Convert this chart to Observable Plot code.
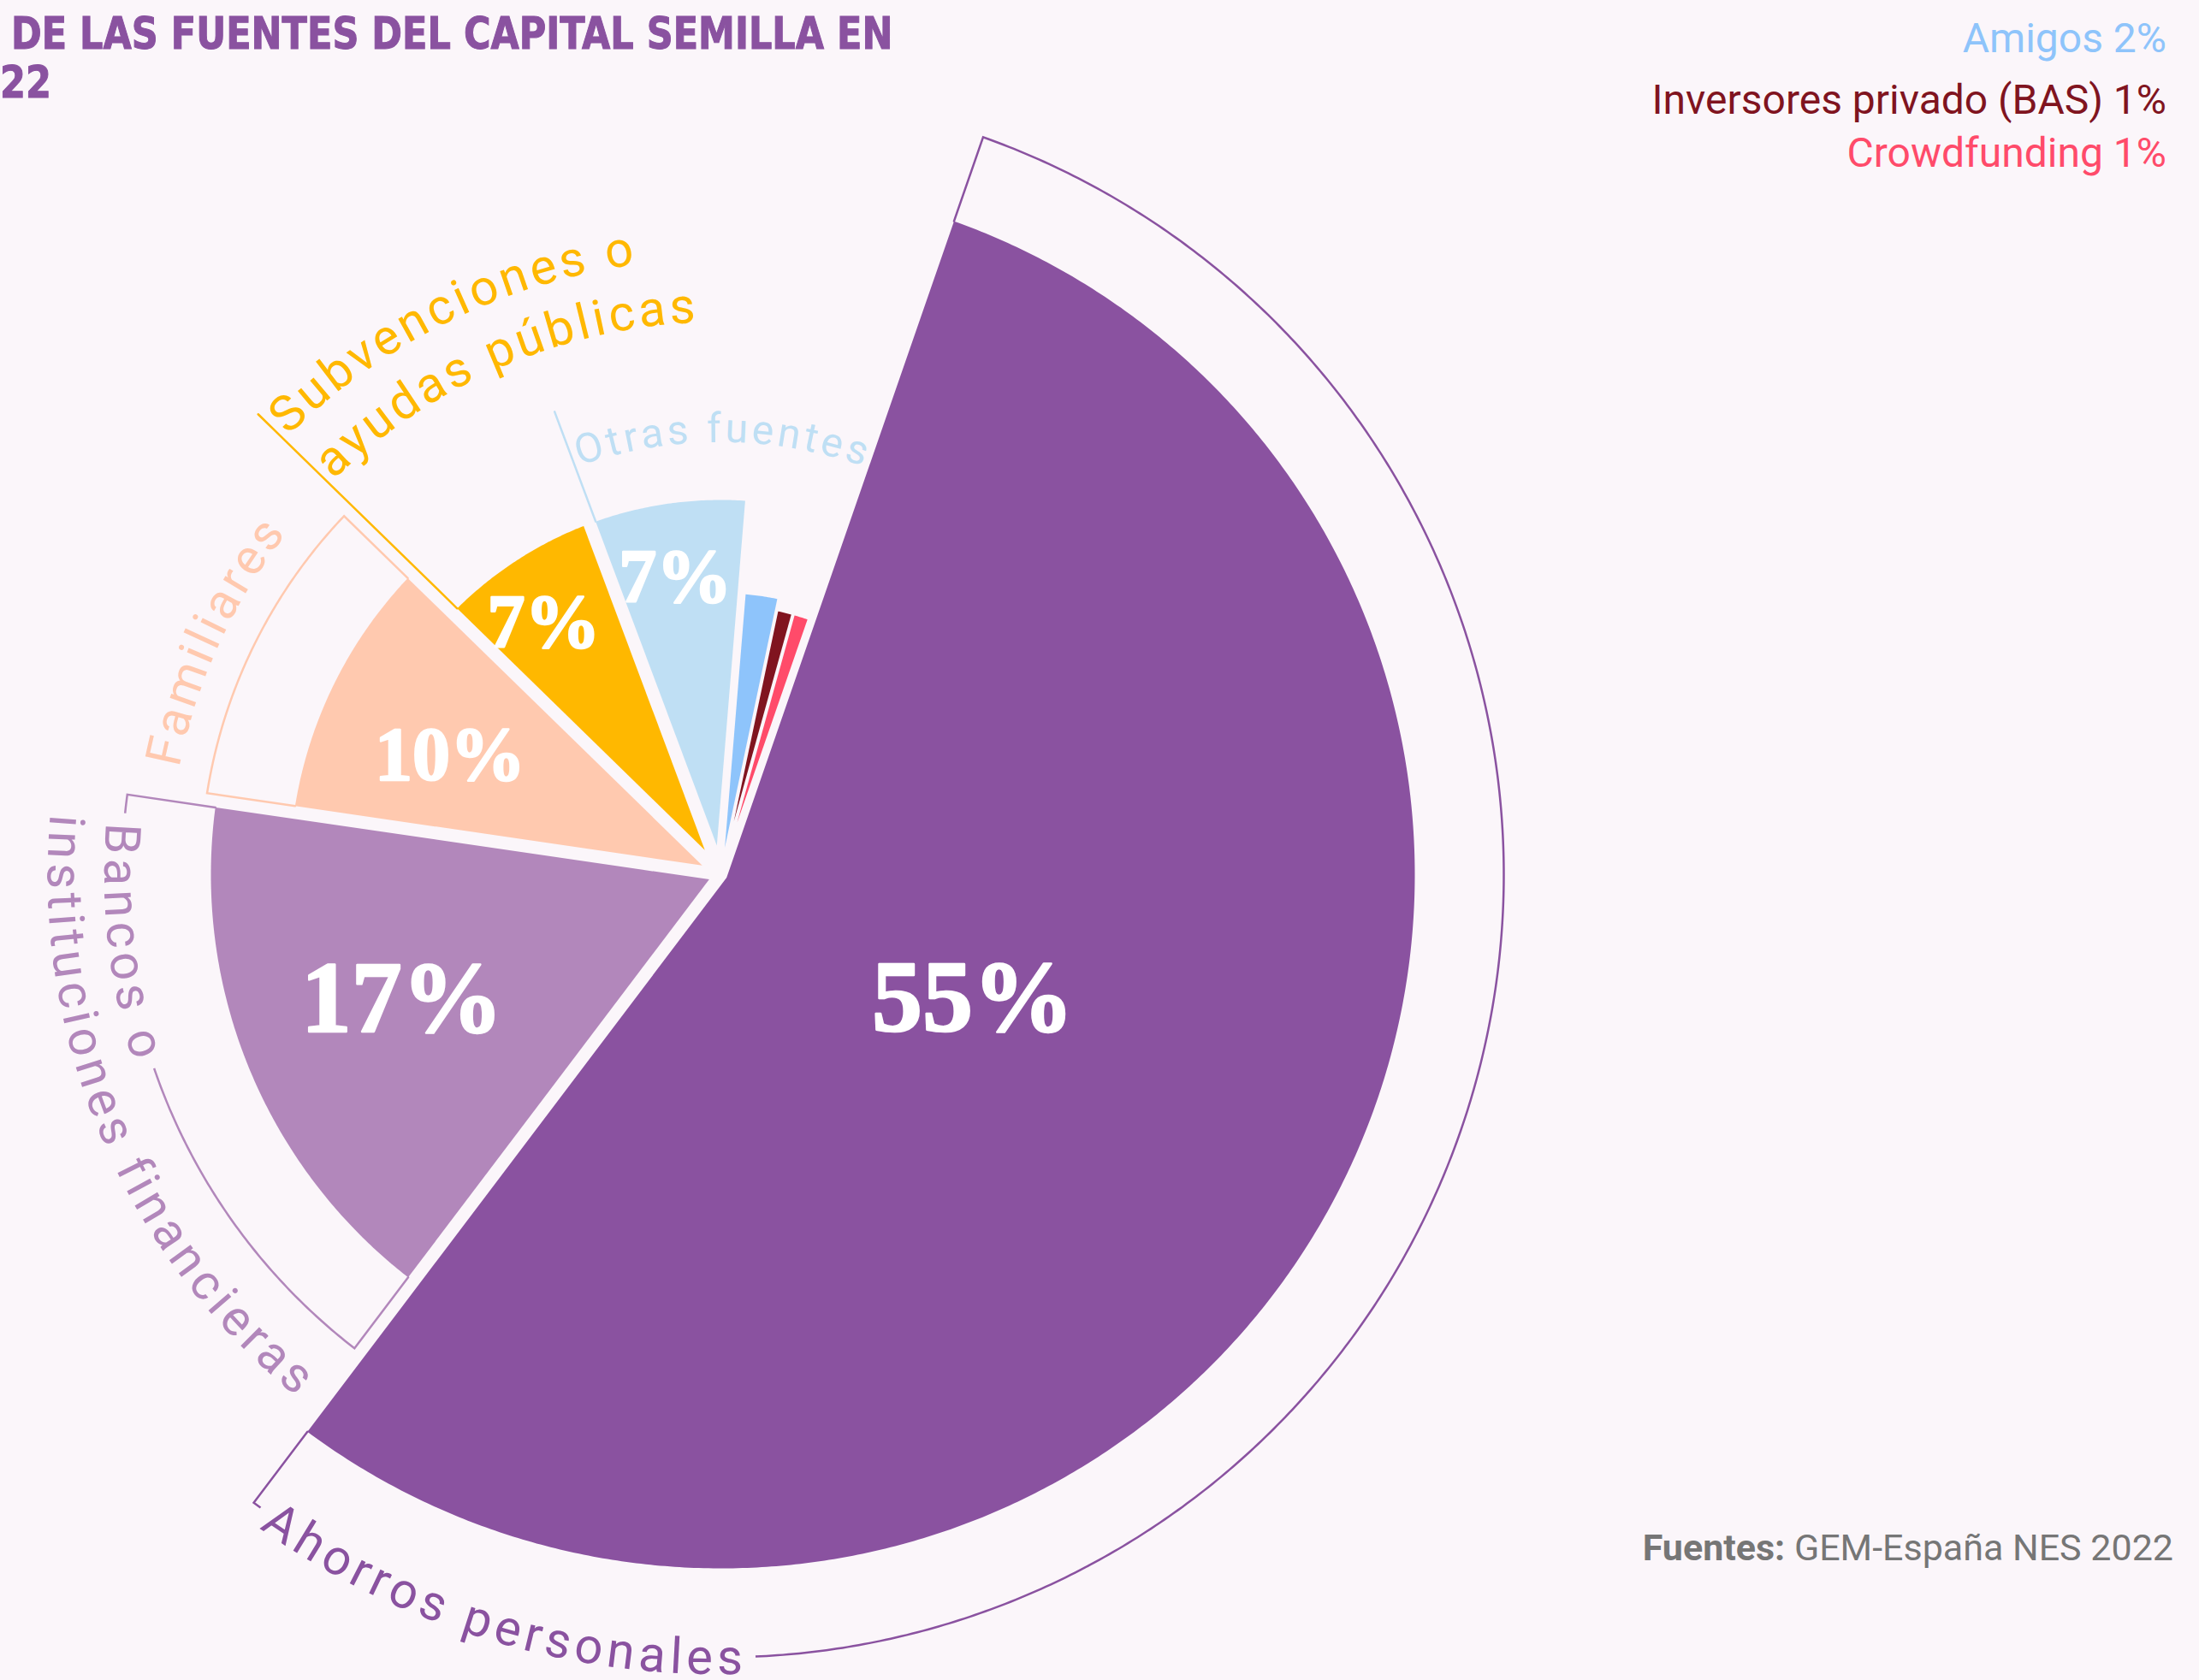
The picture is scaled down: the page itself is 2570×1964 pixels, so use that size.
<!DOCTYPE html>
<html>
<head>
<meta charset="utf-8">
<script src="https://cdn.jsdelivr.net/npm/d3@7"></script>
<script src="https://cdn.jsdelivr.net/npm/@observablehq/plot@0.6"></script>
<style>
  html, body { margin: 0; padding: 0; background: #FBF6FA; }
  #wrap { position: relative; width: 2570px; height: 1964px; overflow: hidden; background: #FBF6FA; }
  #wrap svg { position: absolute; left: 0; top: 0; }
  .title { position: absolute; font-family: "Liberation Sans Narrow", "DejaVu Sans Condensed", "Roboto", sans-serif; font-weight: 700; font-size: 52px; line-height: 1; color: #8A52A0; white-space: nowrap; transform: scaleX(0.92); transform-origin: 0 0; -webkit-text-stroke: 1px #8A52A0; }
  .legend { position: absolute; right: 38px; font-family: "Roboto", sans-serif; font-weight: 400; font-size: 48px; line-height: 1; white-space: nowrap; text-align: right; }
  .source { position: absolute; right: 30px; top: 1788px; font-family: "Roboto", sans-serif; font-size: 43px; line-height: 1; color: #767676; white-space: nowrap; }
  .source b { font-weight: 700; }
</style>
</head>
<body>
<div id="wrap"></div>
<script>
// ---------- DATA ----------
const categories = [
  "Ahorros personales",
  "Bancos o instituciones financieras",
  "Familiares",
  "Subvenciones o ayudas públicas",
  "Otras fuentes",
  "Amigos",
  "Inversores privado (BAS)",
  "Crowdfunding"
];
const values = [55, 17, 10, 7, 7, 2, 1, 1];
const labelLines = [
  ["Ahorros personales"],
  ["Bancos o", "instituciones financieras"],
  ["Familiares"],
  ["Subvenciones o", "ayudas públicas"],
  ["Otras fuentes"],
  [], [], []
];
const legendCategories = ["Amigos", "Inversores privado (BAS)", "Crowdfunding"];
const titleLines = ["DE LAS FUENTES DEL CAPITAL SEMILLA EN", "22"];
const sourceLabel = "Fuentes:";
const sourceText = "GEM-España NES 2022";

// ---------- STYLE / LAYOUT ----------
const palette = ["#8A52A0", "#B287BB", "#FFC9AF", "#FFB800", "#BFDFF4", "#8EC4FB", "#80141F", "#FF4B6A"];
const BG = "#FBF6FA";
const W = 2570, H = 1964, CX = 842, CY = 1022;
const START_DEG = 19.1;
const radius = d3.scaleLinear().domain([1, 2, 7, 10, 17, 55]).range([315, 329, 438, 504, 596, 811]);
const RING_GAP = 104;
const edgeOffset = v => v < 5 ? 2 : 7.5;
const pctSize = v => v >= 15 ? 118 : 88;
// per-category label layout (text radii relative to ring radius or slice radius)
const labelLayout = {
  "Ahorros personales": {ring: true, dir: "ccw", offset: 30, radii: [0], mask: [true], font: 58, pct: 328, pctTurn: -2},
  "Bancos o instituciones financieras": {ring: true, dir: "ccw", offset: 42, radii: [0, 66], mask: [true, false], font: 58, pct: 400, pctTurn: 1},
  "Familiares": {ring: true, dir: "center", radii: [57], mask: [false], font: 58, turn: -1.5, pct: 346, pctTurn: -2.5},
  "Subvenciones o ayudas públicas": {leader: 325, dir: "cw", offset: 15, radii: [302, 228], mask: [false, false], font: 58, pct: 360, pctTurn: -2},
  "Otras fuentes": {leader: 137, dir: "cw", offset: 14, radii: [84], mask: [false], font: 48, pct: 352, pctTurn: -0.8}
};

// ---------- GEOMETRY ----------
const rad = d => d * Math.PI / 180;
const pt = (r, a) => ({x: r * Math.sin(a), y: -r * Math.cos(a)});
const total = d3.sum(values);
let acc = 0;
const slices = categories.map((category, i) => {
  const v = values[i];
  const a0 = rad(START_DEG + 360 * acc / total); acc += v;
  const a1 = rad(START_DEG + 360 * acc / total);
  return {category, v, i, a0, a1, mid: (a0 + a1) / 2, half: (a1 - a0) / 2, R: radius(v), o: edgeOffset(v)};
});
const arcPts = (r, s) => {
  const b0 = s.a0 + Math.asin(s.o / r), b1 = s.a1 - Math.asin(s.o / r);
  const n = Math.max(2, Math.ceil(Math.abs(b1 - b0) / rad(0.4)));
  return d3.range(n + 1).map(k => pt(r, b0 + (b1 - b0) * k / n));
};
const edge0 = (s, r) => pt(r, s.a0 + Math.asin(s.o / r));
const edge1 = (s, r) => pt(r, s.a1 - Math.asin(s.o / r));

const slicePoints = slices.flatMap(s => {
  const apex = pt(s.o / Math.sin(s.half), s.mid);
  return [apex, ...arcPts(s.R, s)].map(p => ({...p, category: s.category}));
});
const ringPoints = slices.filter(s => labelLayout[s.category] && labelLayout[s.category].ring).flatMap(s => {
  const Rr = s.R + RING_GAP;
  return [edge0(s, s.R), ...arcPts(Rr, s), edge1(s, s.R)].map(p => ({...p, category: s.category}));
});
const leaderPoints = slices.filter(s => labelLayout[s.category] && labelLayout[s.category].leader).flatMap(s => {
  const L = labelLayout[s.category].leader;
  return [edge0(s, s.R), edge0(s, s.R + L)].map(p => ({...p, category: s.category}));
});
const pctData = slices.filter(s => s.v >= 5).map(s => {
  const L = labelLayout[s.category];
  return {...pt(L.pct, s.mid + rad(L.pctTurn)), text: s.v + "%", fs: pctSize(s.v)};
});

// ---------- PLOT ----------
const plot = Plot.plot({
  width: W, height: H,
  margin: 0,
  style: {background: BG},
  x: {domain: [-CX, W - CX], range: [0, W], axis: null},
  y: {domain: [-CY, H - CY], range: [0, H], axis: null},
  color: {type: "ordinal", domain: categories, range: palette},
  marks: [
    Plot.line(slicePoints, {x: "x", y: "y", z: "category", fill: "category", stroke: "none"}),
    Plot.line(ringPoints, {x: "x", y: "y", z: "category", stroke: "category", fill: "none", strokeWidth: 2.5, strokeLinejoin: "miter", strokeMiterlimit: 10}),
    Plot.line(leaderPoints, {x: "x", y: "y", z: "category", stroke: "category", strokeWidth: 2.5}),
    Plot.text(pctData, {x: "x", y: "y", text: "text", fontSize: "fs", fill: "white", stroke: "white", strokeWidth: 2.5, fontFamily: "Liberation Serif, DejaVu Serif, serif", fontWeight: 900, letterSpacing: -9})
  ]
});

const wrap = document.getElementById("wrap");
wrap.appendChild(plot);

// ---------- CURVED LABELS (text on paths, positions from Plot scales) ----------
const X = plot.scale("x"), Y = plot.scale("y"), C = plot.scale("color");
const sx = p => X.apply(p.x), sy = p => Y.apply(p.y);
const pxr = r => X.apply(r) - X.apply(0);
const arcD = (r, a0, a1, sweep) => {
  const p0 = pt(r, a0), p1 = pt(r, a1), R = pxr(r);
  return `M${sx(p0)},${sy(p0)} A${R},${R} 0 0 ${sweep} ${sx(p1)},${sy(p1)}`;
};
const svg = d3.select(plot);
const defs = svg.append("defs");
const g = svg.append("g").attr("font-family", "Roboto, sans-serif").attr("font-weight", 400).attr("letter-spacing", 5);
let pid = 0;
slices.forEach(s => {
  const L = labelLayout[s.category];
  if (!L) return;
  const base = L.ring ? s.R + RING_GAP : s.R;
  labelLines[s.i].forEach((line, k) => {
    const r = base + L.radii[k];
    let a0, a1, sweep, dirSign;
    if (L.dir === "ccw") { a0 = s.a1; a1 = s.a1 - rad(100); sweep = 0; dirSign = -1; }
    else if (L.dir === "cw") { a0 = s.a0; a1 = s.a0 + rad(100); sweep = 1; dirSign = 1; }
    else { const m = s.mid + rad(L.turn || 0); a0 = m - rad(60); a1 = m + rad(60); sweep = 1; dirSign = 1; }
    const id = "lp" + (pid++);
    defs.append("path").attr("id", id).attr("d", arcD(r, a0, a1, sweep));
    const t = g.append("text").attr("fill", C.apply(s.category)).attr("dy", "0.35em").attr("font-size", L.font);
    const tp = t.append("textPath").attr("href", "#" + id).text(line);
    if (L.dir === "center") { t.attr("text-anchor", "middle"); tp.attr("startOffset", "50%").attr("text-anchor", "middle"); }
    else { t.attr("text-anchor", "start"); tp.attr("startOffset", L.offset).attr("text-anchor", "start"); }
    if (L.mask[k]) {
      // hide the ring line behind the text, with a small gap on each side
      const len = tp.node().getComputedTextLength();
      const s0 = L.offset - 12, s1 = L.offset + len + 10;
      g.insert("path", () => t.node())
        .attr("d", arcD(r, a0 + dirSign * s0 / r, a0 + dirSign * s1 / r, sweep))
        .attr("fill", "none").attr("stroke", BG).attr("stroke-width", 12);
    }
  });
});

// ---------- TITLE, LEGEND, SOURCE ----------
const t1 = document.createElement("div"); t1.className = "title"; t1.style.left = "13px"; t1.style.top = "13px"; t1.textContent = titleLines[0]; wrap.appendChild(t1);
const t2 = document.createElement("div"); t2.className = "title"; t2.style.left = "0px"; t2.style.top = "70px"; t2.textContent = titleLines[1]; wrap.appendChild(t2);
const legendTops = [21, 93, 155];
legendCategories.forEach((c, k) => {
  const i = categories.indexOf(c);
  const d = document.createElement("div");
  d.className = "legend";
  d.style.top = legendTops[k] + "px";
  d.style.color = C.apply(c);
  d.textContent = `${c} ${values[i]}%`;
  wrap.appendChild(d);
});
const src = document.createElement("div"); src.className = "source";
src.innerHTML = `<b>${sourceLabel}</b> ${sourceText}`;
wrap.appendChild(src);
</script>
</body>
</html>
